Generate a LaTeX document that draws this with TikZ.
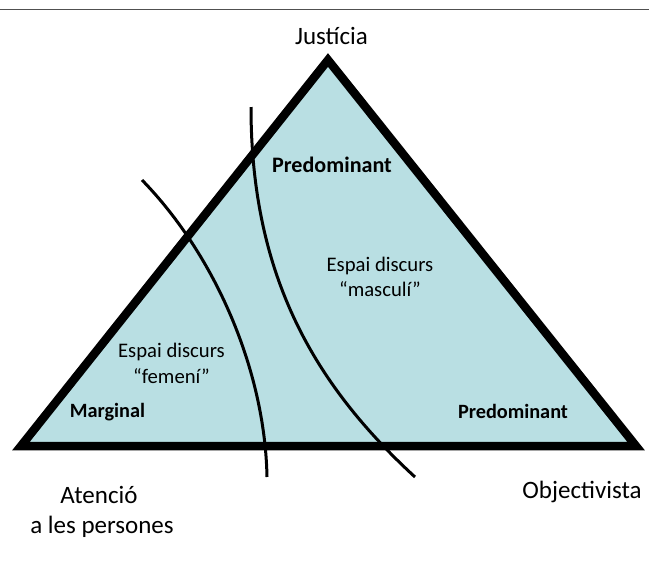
\documentclass[tikz,border=0pt]{standalone}
\usepackage{fontspec}
\setmainfont{Carlito}
\definecolor{trifill}{RGB}{185,223,227}
\definecolor{rulegray}{RGB}{80,80,80}
\begin{document}
\begin{tikzpicture}[x=1pt,y=-1pt,
  lbl/.style={anchor=base,inner sep=0pt,font=\fontsize{25}{28}\selectfont},
  inlbl/.style={anchor=base,inner sep=0pt,font=\fontsize{20.7}{24}\selectfont},
  boldlbl/.style={anchor=base,inner sep=0pt,font=\bfseries\fontsize{20.3}{24}\selectfont},
  divider/.style={line width=3pt,black},
  tri/.style={line width=8.5pt,line join=miter,fill=trifill,draw=black}]
\useasboundingbox (0,0) rectangle (649,563);
\draw[line width=1.6pt,rulegray] (0,9.5) -- (649,9.5);
\coordinate (A) at (328,60);
\coordinate (B) at (21,446);
\coordinate (C) at (636,446);
\draw[tri] (A) -- (B) -- (C) -- cycle;
\coordinate (f0) at (142,180);
\coordinate (f1) at (267,477);
\coordinate (m0) at (251,107);
\coordinate (m1) at (415,477);
\draw[divider] (f0) .. controls (215,255) and (265,370) .. (f1);
\draw[divider] (m0) .. controls (251,275) and (313.6,383.8) .. (m1);
\node[lbl] (just) at (331.5,44.5) {Justícia};
\node[lbl] (obj) at (582,498) {Objectivista};
\node[lbl] (at1) at (99,503.5) {Atenció};
\node[lbl] (at2) at (102,533.3) {a les persones};
\node[boldlbl,font=\bfseries\fontsize{22.1}{26}\selectfont] (pred1) at (332,172.3) {Predominant};
\node[boldlbl] (pred2) at (513,418.3) {Predominant};
\node[boldlbl] (marg) at (107.5,417.3) {Marginal};
\node[inlbl] (em1) at (380,271.7) {Espai discurs};
\node[inlbl] (em2) at (380,296.5) {“masculí”};
\node[inlbl] (ef1) at (171.5,357) {Espai discurs};
\node[inlbl] (ef2) at (171.5,383) {“femení”};
\end{tikzpicture}
\end{document}
